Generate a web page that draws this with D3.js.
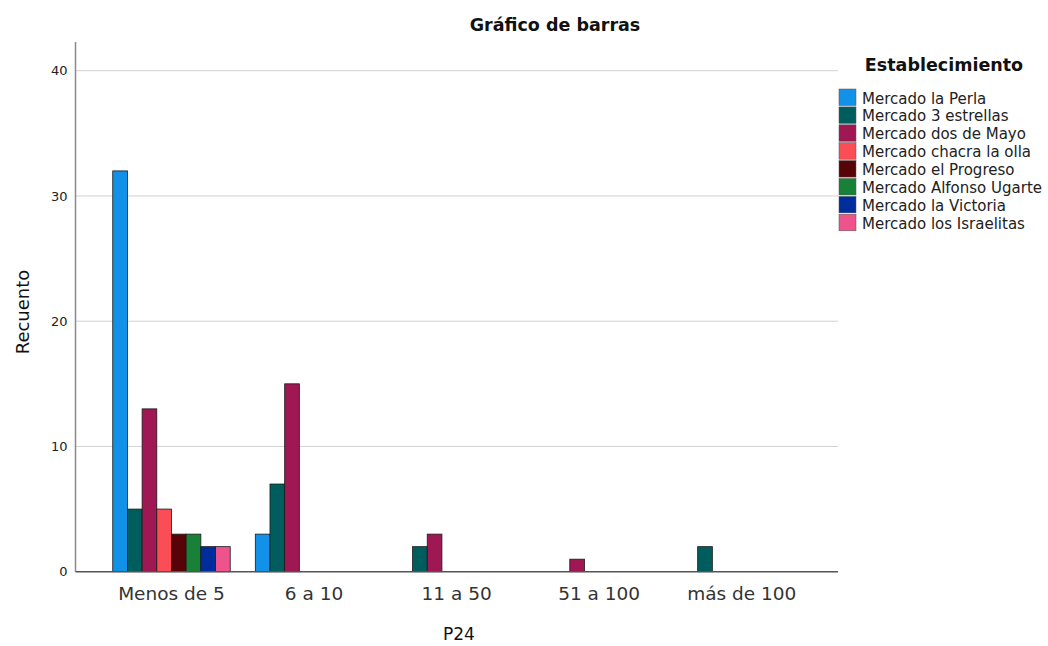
<!DOCTYPE html>
<html>
<head>
<meta charset="utf-8">
<script src="https://cdn.jsdelivr.net/npm/d3@7"></script>
<style>
  html, body { margin: 0; padding: 0; background: #fff; }
  svg { display: block; font-family: "DejaVu Sans", sans-serif; }
</style>
</head>
<body>
<svg id="chart" width="1048" height="646"></svg>
<script>
const categories = ["Menos de 5", "6 a 10", "11 a 50", "51 a 100", "más de 100"];
const seriesNames = [
  "Mercado la Perla",
  "Mercado 3 estrellas",
  "Mercado dos de Mayo",
  "Mercado chacra la olla",
  "Mercado el Progreso",
  "Mercado Alfonso Ugarte",
  "Mercado la Victoria",
  "Mercado los Israelitas"
];
const seriesColors = ["#1192E8", "#005D5D", "#9F1853", "#FA4D56", "#570408", "#198038", "#002D9C", "#EE538B"];
// values per series, one entry per category
const laPerla       = [32, 3, 0, 0, 0];
const tresEstrellas = [5, 7, 2, 0, 2];
const dosDeMayo     = [13, 15, 3, 1, 0];
const chacraLaOlla  = [5, 0, 0, 0, 0];
const elProgreso    = [3, 0, 0, 0, 0];
const alfonsoUgarte = [3, 0, 0, 0, 0];
const laVictoria    = [2, 0, 0, 0, 0];
const israelitas    = [2, 0, 0, 0, 0];
const seriesValues = [laPerla, tresEstrellas, dosDeMayo, chacraLaOlla, elProgreso, alfonsoUgarte, laVictoria, israelitas];
const yTicks = [0, 10, 20, 30, 40];

const svg = d3.select("#chart");

const plotLeft = 75.5, plotRight = 838, plotTop = 42;
const y = d3.scaleLinear().domain([0, 40]).range([571.7, 70.7]);
const x0 = d3.scaleBand().domain(categories).range([100.2, 813]).paddingInner(0.176).paddingOuter(0.088);
const x1 = d3.scaleBand().domain(d3.range(seriesNames.length)).range([0, x0.bandwidth()]).padding(0);

// gridlines
svg.append("g").selectAll("line").data(yTicks.filter(d => d > 0)).join("line")
  .attr("x1", plotLeft).attr("x2", plotRight)
  .attr("y1", d => y(d)).attr("y2", d => y(d))
  .attr("stroke", "#d2d2d2").attr("stroke-width", 1);

// y axis
const yAxis = d3.axisLeft(y).tickValues(yTicks).tickSize(0).tickPadding(8).tickFormat(d3.format("d"));
const gy = svg.append("g").attr("transform", `translate(${plotLeft},0)`).call(yAxis);
gy.select(".domain").remove();
gy.selectAll("text").attr("font-size", 13).attr("fill", "#222").attr("font-family", "DejaVu Sans, sans-serif");
svg.append("line").attr("x1", plotLeft).attr("x2", plotLeft).attr("y1", plotTop).attr("y2", y(0))
  .attr("stroke", "#8a8a8a").attr("stroke-width", 1.5);

// bars
const flat = [];
categories.forEach((c, ci) => {
  seriesValues.forEach((vals, si) => {
    if (vals[ci] > 0) flat.push({ c, si, v: vals[ci] });
  });
});
svg.append("g").selectAll("rect").data(flat).join("rect")
  .attr("x", d => x0(d.c) + x1(d.si))
  .attr("y", d => y(d.v))
  .attr("width", x1.bandwidth())
  .attr("height", d => y(0) - y(d.v))
  .attr("fill", d => seriesColors[d.si])
  .attr("stroke", "#1a1a1a").attr("stroke-width", 0.8);

// x axis baseline
svg.append("line").attr("x1", plotLeft).attr("x2", plotRight).attr("y1", y(0)).attr("y2", y(0))
  .attr("stroke", "#555").attr("stroke-width", 1.5);

const xAxis = d3.axisBottom(x0).tickSize(0).tickPadding(15);
const gx = svg.append("g").attr("transform", `translate(0,${y(0)})`).call(xAxis);
gx.select(".domain").remove();
gx.selectAll("text").attr("font-size", 18.5).attr("fill", "#333").attr("font-family", "DejaVu Sans, sans-serif");

// title
svg.append("text").attr("x", 555).attr("y", 31).attr("text-anchor", "middle")
  .attr("font-weight", "bold").attr("font-size", 17.5)
  .attr("fill", "#111").text("Gráfico de barras");

// axis titles
svg.append("text").attr("transform", "translate(29,312) rotate(-90)").attr("text-anchor", "middle")
  .attr("font-size", 18).attr("fill", "#111").text("Recuento");
svg.append("text").attr("x", 459).attr("y", 640).attr("text-anchor", "middle")
  .attr("font-size", 17).attr("fill", "#111").text("P24");

// legend
svg.append("text").attr("x", 944).attr("y", 71).attr("text-anchor", "middle")
  .attr("font-weight", "bold").attr("font-size", 17.5).attr("fill", "#111").text("Establecimiento");
const lg = svg.append("g").selectAll("g").data(seriesNames).join("g")
  .attr("transform", (d, i) => `translate(839,${89 + i * 17.9})`);
lg.append("rect").attr("width", 17).attr("height", 16.5)
  .attr("fill", (d, i) => seriesColors[i]).attr("stroke", "#555").attr("stroke-width", 0.5);
lg.append("text").attr("x", 23).attr("y", 14.5).attr("font-size", 15).attr("fill", "#222").text(d => d);
</script>
</body>
</html>
